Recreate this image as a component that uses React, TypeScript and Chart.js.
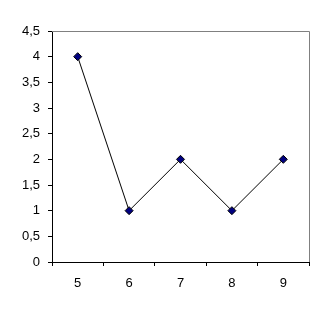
import React, { useEffect, useRef } from "react";
import { Chart, registerables } from "chart.js";

Chart.register(...registerables);

const categories = ["5", "6", "7", "8", "9"];
const values = [4, 1, 2, 1, 2];
const yMin = 0;
const yMax = 4.5;
const yStep = 0.5;

const frame = {
  id: "frame",
  beforeDatasetsDraw(chart: any) {
    const { ctx, chartArea } = chart;
    ctx.save();
    ctx.strokeStyle = "#808080";
    ctx.lineWidth = 1;
    ctx.beginPath();
    ctx.moveTo(chartArea.left, chartArea.top + 0.5);
    ctx.lineTo(chartArea.right + 0.5, chartArea.top + 0.5);
    ctx.lineTo(chartArea.right + 0.5, chartArea.bottom);
    ctx.stroke();
    ctx.restore();
  },
};

export default function App() {
  const ref = useRef<HTMLCanvasElement>(null);
  useEffect(() => {
    if (!ref.current) return;
    const chart = new Chart(ref.current, {
      type: "line",
      data: {
        labels: categories,
        datasets: [
          {
            data: values,
            borderColor: "#000000",
            borderWidth: 1,
            pointStyle: "rectRot",
            pointRadius: 4,
            pointBackgroundColor: "#000080",
            pointBorderColor: "#000000",
            pointBorderWidth: 1,
            tension: 0,
          },
        ],
      },
      options: {
        animation: false,
        responsive: false,
        layout: { padding: { left: 0, top: 31, right: 18, bottom: 0 } },
        plugins: { legend: { display: false }, tooltip: { enabled: false } },
        scales: {
          x: {
            offset: true,
            grid: {
              offset: true,
              drawOnChartArea: false,
              drawTicks: true,
              tickLength: 4,
              color: "#000000",
            },
            border: { color: "#000000", width: 1 },
            ticks: {
              color: "#000000",
              padding: 10,
              font: { family: "Liberation Sans, Arial, sans-serif", size: 13 },
            },
            afterFit(scale: any) {
              scale.height = 315 - 262;
            },
          },
          y: {
            min: yMin,
            max: yMax,
            grid: {
              drawOnChartArea: false,
              drawTicks: true,
              tickLength: 4,
              color: "#000000",
            },
            border: { color: "#000000", width: 1 },
            ticks: {
              stepSize: yStep,
              color: "#000000",
              padding: 8,
              font: { family: "Liberation Sans, Arial, sans-serif", size: 13 },
              callback: (v: any) => String(Number(v)).replace(".", ","),
            },
            afterFit(scale: any) {
              scale.width = 52;
            },
          },
        },
      },
      plugins: [frame],
    });
    return () => chart.destroy();
  }, []);
  return (
    <div style={{ position: "absolute", left: 0, top: 0, width: 327, height: 315, background: "#fff" }}>
      <canvas ref={ref} width={327} height={315} style={{ display: "block" }} />
    </div>
  );
}
